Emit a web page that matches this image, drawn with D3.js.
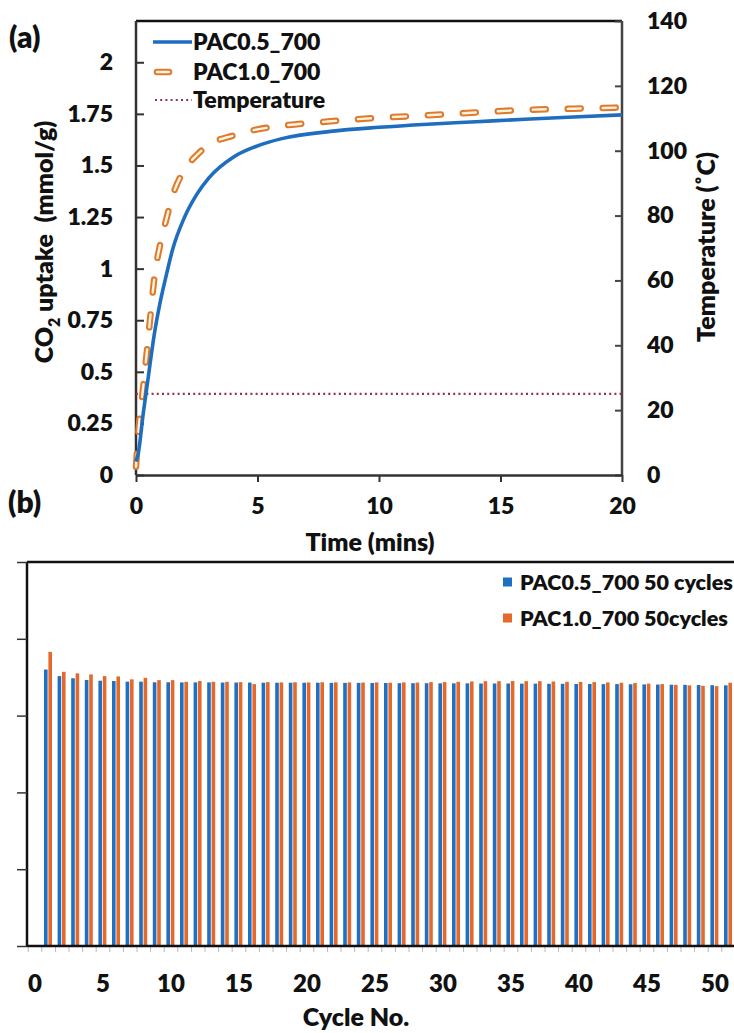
<!DOCTYPE html>
<html>
<head>
<meta charset="utf-8">
<script src="https://cdn.jsdelivr.net/npm/d3@7/dist/d3.min.js"></script>
<style>
  html, body { margin: 0; padding: 0; background: #fff; }
  svg { display: block; }
  text { font-family: Lato, "Open Sans", sans-serif; font-weight: 800; fill: #111; white-space: pre; }
</style>
</head>
<body>
<svg id="chart" width="734" height="1033"></svg>
<script>
// ---- Panel (a): CO2 uptake kinetics ----
const timePAC05 = [0, 0.1, 0.3, 0.5, 0.75, 1, 1.25, 1.5, 2, 2.5, 3, 4, 5, 6, 8, 10, 12, 14, 16, 18, 20];
const uptakePAC05 = [0.065, 0.11, 0.30, 0.47, 0.68, 0.84, 0.97, 1.09, 1.25, 1.36, 1.44, 1.54, 1.595, 1.63, 1.665, 1.685, 1.70, 1.712, 1.724, 1.735, 1.745];
const timePAC10 = [0, 0.1, 0.3, 0.45, 0.6, 0.75, 1, 1.25, 1.5, 2, 2.5, 3, 4, 5, 6, 8, 10, 12, 14, 16, 18, 20];
const uptakePAC10 = [0.04, 0.21, 0.43, 0.60, 0.78, 0.95, 1.12, 1.24, 1.35, 1.48, 1.55, 1.60, 1.645, 1.675, 1.692, 1.714, 1.731, 1.743, 1.757, 1.769, 1.775, 1.781];
const timeTemp = [0, 20];
const temperature = [25, 25];
const uptakeTicks = [0, 0.25, 0.5, 0.75, 1, 1.25, 1.5, 1.75, 2];
const tempTicks = [0, 20, 40, 60, 80, 100, 120, 140];
const timeTicks = [0, 5, 10, 15, 20];
const seriesNamesA = ["PAC0.5_700", "PAC1.0_700", "Temperature"];

// ---- Panel (b): cycling stability ----
const cycles = d3.range(1, 52);
const cyclePAC05 = [1.800, 1.757, 1.743, 1.732, 1.727, 1.725, 1.721, 1.721, 1.717, 1.717,
  1.716, 1.716, 1.716, 1.715, 1.715, 1.715, 1.714, 1.714, 1.714, 1.714,
  1.714, 1.713, 1.713, 1.713, 1.712, 1.712, 1.711, 1.711, 1.711, 1.710,
  1.710, 1.710, 1.709, 1.709, 1.709, 1.708, 1.708, 1.707, 1.707, 1.706,
  1.706, 1.705, 1.705, 1.704, 1.703, 1.702, 1.701, 1.700, 1.699, 1.698, 1.697];
const cyclePAC10 = [1.915, 1.785, 1.775, 1.768, 1.757, 1.755, 1.736, 1.746, 1.731, 1.731,
  1.720, 1.725, 1.720, 1.720, 1.718, 1.705, 1.718, 1.716, 1.717, 1.716,
  1.717, 1.716, 1.716, 1.715, 1.716, 1.714, 1.716, 1.715, 1.718, 1.718,
  1.720, 1.722, 1.724, 1.724, 1.725, 1.724, 1.724, 1.722, 1.720, 1.719,
  1.718, 1.716, 1.714, 1.712, 1.708, 1.705, 1.700, 1.697, 1.694, 1.692, 1.714];
const cycleValueTicks = [0, 0.5, 1, 1.5, 2, 2.5];
const cycleTicks = [0, 5, 10, 15, 20, 25, 30, 35, 40, 45, 50];
const seriesNamesB = ["PAC0.5_700 50 cycles", "PAC1.0_700 50cycles"];

const blue = "#1f6dbf";
const orange = "#df7a2c";
const cream = "#fdf3df";
const wine = "#94324f";
const barBlue = "#1f6fc2";
const barOrange = "#e4692a";

const svg = d3.select("#chart");

function styleTickText(sel, size) {
  sel.selectAll(".tick text").attr("font-size", size).attr("fill", "#111")
    .attr("font-family", "Lato, sans-serif").attr("font-weight", 800);
}

// ===== Panel (a) =====
const A = { left: 136, right: 622, top: 21, bottom: 475 };
const xA = d3.scaleLinear().domain([0, 20]).range([A.left, A.right]);
const yA = d3.scaleLinear().domain([0, 2.2]).range([A.bottom, A.top]);
const yT = d3.scaleLinear().domain([0, 140]).range([A.bottom, A.top]);

const gA = svg.append("g");

// frame top line
gA.append("line").attr("x1", A.left).attr("x2", A.right).attr("y1", A.top).attr("y2", A.top)
  .attr("stroke", "#111").attr("stroke-width", 2.5);

// left axis, ticks pointing inward
const axL = gA.append("g").attr("transform", `translate(${A.left},0)`)
  .call(d3.axisLeft(yA).tickValues(uptakeTicks).tickSize(-8).tickSizeOuter(0).tickPadding(23)
    .tickFormat(d => String(d)));
axL.select(".domain").attr("stroke", "#333").attr("stroke-width", 2.5).attr("d", `M0,${A.top}V${A.bottom}`);
axL.selectAll(".tick line").attr("stroke", "#333").attr("stroke-width", 2);
styleTickText(axL, 23);

// right axis, ticks pointing inward
const axR = gA.append("g").attr("transform", `translate(${A.right},0)`)
  .call(d3.axisRight(yT).tickValues(tempTicks).tickSize(-7).tickSizeOuter(0).tickPadding(25));
axR.select(".domain").attr("stroke", "#444").attr("stroke-width", 2.5).attr("d", `M0,${A.top}V${A.bottom}`);
axR.selectAll(".tick line").attr("stroke", "#444").attr("stroke-width", 2);
styleTickText(axR, 23);

// bottom axis, ticks pointing outward
const axB = gA.append("g").attr("transform", `translate(0,${A.bottom})`)
  .call(d3.axisBottom(xA).tickValues(timeTicks).tickSize(7).tickSizeOuter(0).tickPadding(16));
axB.select(".domain").attr("stroke", "#333").attr("stroke-width", 2.5);
axB.selectAll(".tick line").attr("stroke", "#333").attr("stroke-width", 2);
styleTickText(axB, 23);

// temperature (dotted)
const tempLine = d3.line().x((d, i) => xA(timeTemp[i])).y(d => yT(d));
gA.append("path").datum(temperature).attr("d", tempLine)
  .attr("fill", "none").attr("stroke", wine).attr("stroke-width", 2.2)
  .attr("stroke-dasharray", "2,3.2");

// PAC1.0_700 (hollow dashes)
const line10 = d3.line().curve(d3.curveMonotoneX).x((d, i) => xA(timePAC10[i])).y(d => yA(d));
gA.append("path").datum(uptakePAC10).attr("d", line10)
  .attr("fill", "none").attr("stroke", orange).attr("stroke-width", 6.5)
  .attr("stroke-linecap", "round").attr("stroke-dasharray", "13,22");
gA.append("path").datum(uptakePAC10).attr("d", line10)
  .attr("fill", "none").attr("stroke", cream).attr("stroke-width", 2.4)
  .attr("stroke-linecap", "round").attr("stroke-dasharray", "13,22");

// PAC0.5_700 (solid)
const line05 = d3.line().curve(d3.curveMonotoneX).x((d, i) => xA(timePAC05[i])).y(d => yA(d));
gA.append("path").datum(uptakePAC05).attr("d", line05)
  .attr("fill", "none").attr("stroke", blue).attr("stroke-width", 3.6);

// legend (a)
const legA = gA.append("g");
const legRows = [42, 72, 100];
legA.append("line").attr("x1", 153).attr("x2", 192).attr("y1", legRows[0]).attr("y2", legRows[0])
  .attr("stroke", blue).attr("stroke-width", 3.6);
legA.append("line").attr("x1", 157).attr("x2", 169).attr("y1", legRows[1]).attr("y2", legRows[1])
  .attr("stroke", orange).attr("stroke-width", 6.5).attr("stroke-linecap", "round");
legA.append("line").attr("x1", 157).attr("x2", 169).attr("y1", legRows[1]).attr("y2", legRows[1])
  .attr("stroke", cream).attr("stroke-width", 2.4).attr("stroke-linecap", "round");
legA.append("line").attr("x1", 155).attr("x2", 192).attr("y1", legRows[2]).attr("y2", legRows[2])
  .attr("stroke", wine).attr("stroke-width", 2).attr("stroke-dasharray", "2,3.2");
seriesNamesA.forEach((name, i) => {
  legA.append("text").attr("x", 193).attr("y", legRows[i]).attr("dy", "0.36em")
    .attr("font-size", 23).text(name);
});

// axis titles (a)
gA.append("text").attr("transform", `translate(53,242) rotate(-90)`)
  .attr("text-anchor", "middle").attr("font-size", 25)
  .call(t => {
    t.append("tspan").text("CO");
    t.append("tspan").attr("font-size", 16).attr("dy", 7).text("2");
    t.append("tspan").attr("dy", -7).text(" uptake  (mmol/g)");
  });
gA.append("text").attr("transform", `translate(715,247) rotate(-90)`)
  .attr("text-anchor", "middle").attr("font-size", 25).text("Temperature (˚C)");
gA.append("text").attr("x", 370).attr("y", 551).attr("text-anchor", "middle")
  .attr("font-size", 25).text("Time (mins)");

// panel letters
svg.append("text").attr("x", 9).attr("y", 48).attr("font-size", 30).text("(a)");
svg.append("text").attr("x", 8).attr("y", 513).attr("font-size", 30).text("(b)");

// ===== Panel (b) =====
const B = { left: 27, top: 562, bottom: 946 };
const xB = d3.scaleLinear().domain([0, 1]).range([35, 48.6]);
const yB = d3.scaleLinear().domain([0, 2.5]).range([B.bottom, B.top]);
const barW = 3.6;

const gB = svg.append("g");

// frame top line
gB.append("line").attr("x1", B.left).attr("x2", 734).attr("y1", B.top).attr("y2", B.top)
  .attr("stroke", "#111").attr("stroke-width", 2.5);

// bars
gB.append("g").selectAll("rect").data(cyclePAC05).join("rect")
  .attr("x", (d, i) => xB(cycles[i]) - 4.6).attr("width", barW)
  .attr("y", d => yB(d)).attr("height", d => B.bottom - yB(d))
  .attr("fill", barBlue);
gB.append("g").selectAll("rect").data(cyclePAC10).join("rect")
  .attr("x", (d, i) => xB(cycles[i]) - 0.2).attr("width", barW)
  .attr("y", d => yB(d)).attr("height", d => B.bottom - yB(d))
  .attr("fill", barOrange);

// left axis, outward ticks (value labels fall beyond the page edge, so none are drawn)
const axBL = gB.append("g").attr("transform", `translate(${B.left},0)`)
  .call(d3.axisLeft(yB).tickValues(cycleValueTicks).tickSize(10).tickSizeOuter(0).tickFormat(""));
axBL.select(".domain").attr("stroke", "#111").attr("stroke-width", 2.5).attr("d", `M0,${B.top}V${B.bottom}`);
axBL.selectAll(".tick line").attr("stroke", "#333").attr("stroke-width", 1.5);

// bottom axis: category boundary ticks and labels
const boundaries = d3.range(-0.5, 52, 1);
gB.append("g").selectAll("line").data(boundaries).join("line")
  .attr("x1", d => xB(d)).attr("x2", d => xB(d))
  .attr("y1", B.bottom).attr("y2", B.bottom + 6)
  .attr("stroke", "#b9b9b9").attr("stroke-width", 1);
gB.append("line").attr("x1", B.left).attr("x2", 734).attr("y1", B.bottom).attr("y2", B.bottom)
  .attr("stroke", "#111").attr("stroke-width", 2.5);
gB.append("g").selectAll("text").data(cycleTicks).join("text")
  .attr("x", d => xB(d)).attr("y", 992).attr("text-anchor", "middle")
  .attr("font-size", 24).text(d => d);
gB.append("text").attr("x", 356).attr("y", 1026).attr("text-anchor", "middle")
  .attr("font-size", 25).text("Cycle No.");

// legend (b)
const legB = gB.append("g");
const legBRows = [582, 618];
[barBlue, barOrange].forEach((c, i) => {
  legB.append("rect").attr("x", 503).attr("y", legBRows[i] - 4.5).attr("width", 9).attr("height", 9).attr("fill", c);
  legB.append("text").attr("x", 520).attr("y", legBRows[i]).attr("dy", "0.36em")
    .attr("font-size", 21.5).text(seriesNamesB[i]);
});
</script>
</body>
</html>
